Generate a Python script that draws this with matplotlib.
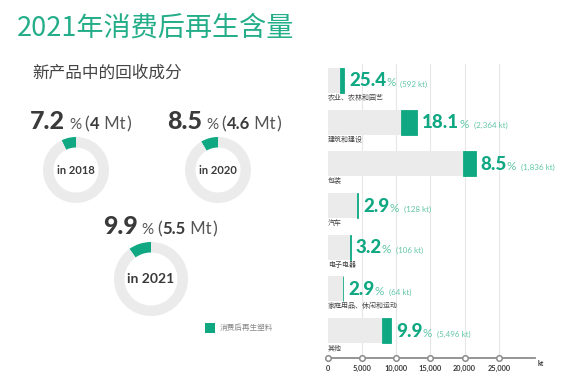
import matplotlib
matplotlib.use("Agg")
import matplotlib.pyplot as plt

# ---------------- data ----------------
title = "2021年消费后再生含量"
subtitle = "新产品中的回收成分"

donut_years = ["in 2018", "in 2020", "in 2021"]
donut_pct = [7.2, 8.5, 9.9]
donut_pct_labels = ["7.2", "8.5", "9.9"]
donut_mt_labels = ["4", "4.6", "5.5"]
legend_label = "消费后再生塑料"

categories = ["农业、农林和园艺", "建筑和建设", "包装", "汽车", "电子电器",
              "家庭用品、休闲和运动", "其他"]
sector_pct_labels = ["25.4", "18.1", "8.5", "2.9", "3.2", "2.9", "9.9"]
sector_kt_labels = ["592", "2,364", "1,836", "128", "106", "64", "5,496"]
recycled_kt = [592, 2364, 1836, 128, 106, 64, 1300]
total_kt = [2330, 13060, 21600, 4410, 3310, 2210, 9200]
x_ticks = [0, 5000, 10000, 15000, 20000, 25000]
x_tick_labels = ["0", "5,000", "10,000", "15,000", "20,000", "25,000"]

# ---------------- style ----------------
GREEN = "#0fa882"
TITLE_GREEN = "#23ad88"
LIGHT_GREEN = "#62c6a8"
GRAY_BAR = "#ebebeb"
DARK = "#3a3a3a"
CJK = ["Noto Sans CJK SC", "DejaVu Sans"]
LAT = ["Lato", "DejaVu Sans"]

W, H = 568, 387
fig = plt.figure(figsize=(W / 100, H / 100), dpi=100)
fig.patch.set_facecolor("white")
ov = fig.add_axes([0, 0, 1, 1])
ov.set_xlim(0, W)
ov.set_ylim(H, 0)
ov.axis("off")
ov.set_zorder(5)
ov.patch.set_alpha(0)

renderer = fig.canvas.get_renderer()


def seq_text(x, y, parts):
    """parts: list of (text, kwargs, gap_px_before)."""
    cx = x
    for s, kw, gap in parts:
        cx += gap
        t = ov.text(cx, y, s, ha="left", va="baseline", **kw)
        bb = t.get_window_extent(renderer)
        cx = bb.x1
    return cx


# title + subtitle
ov.text(17, 28, title, fontsize=19.5, color=TITLE_GREEN, family=CJK,
        ha="left", va="center")
ov.text(32, 73, subtitle, fontsize=12, color="#444444", family=CJK,
        ha="left", va="center")

# ---------------- donuts ----------------
donut_geo = [  # (cx, cy, r_outer, ring)
    (76, 170, 33, 10.5),
    (218, 170, 33, 10.5),
    (151, 279, 37, 10.5),
]
title_pos = [(30, 129), (167, 129), (103, 234)]
year_fs = [8, 8, 10]

for i in range(3):
    cx, cy, r, ring = donut_geo[i]
    axd = fig.add_axes([(cx - r) / W, 1 - (cy + r) / H, 2 * r / W, 2 * r / H])
    axd.pie([donut_pct[i], 100 - donut_pct[i]], colors=[GREEN, GRAY_BAR],
            startangle=90, counterclock=True, radius=1,
            wedgeprops=dict(width=ring / r, edgecolor="none"))
    axd.set_xlim(-1, 1)
    axd.set_ylim(-1, 1)
    axd.set_aspect("equal")
    axd.axis("off")
    ov.text(cx, cy, donut_years[i], fontsize=year_fs[i], fontweight="bold",
            color=DARK, family=LAT, ha="center", va="center")
    tx, ty = title_pos[i]
    seq_text(tx, ty, [
        (donut_pct_labels[i], dict(fontsize=18, fontweight="black", color=DARK, family=LAT), 0),
        ("%", dict(fontsize=11, color="#555555", family=LAT), 4),
        ("(", dict(fontsize=13, color="#555555", family=LAT), 3),
        (donut_mt_labels[i], dict(fontsize=12, fontweight="bold", color=DARK, family=LAT), 1),
        (" Mt", dict(fontsize=12, color="#555555", family=LAT), 0),
        (")", dict(fontsize=13, color="#555555", family=LAT), 1),
    ])

# legend
ov.add_patch(plt.Rectangle((205, 323), 10, 10, color=GREEN, lw=0))
ov.text(220, 328, legend_label, fontsize=5.5, color="#888888", family=CJK,
        ha="left", va="center")

# ---------------- bar chart ----------------
x0_px, x1_px = 328, 535
top_px, bot_px = 60, 357.7
row0, row_step = 80.5, 41.67
xmax = 30300
axb = fig.add_axes([x0_px / W, 1 - bot_px / H, (x1_px - x0_px) / W, (bot_px - top_px) / H])
ymin = (top_px - row0) / row_step
ymax = (bot_px - row0) / row_step
axb.set_xlim(0, xmax)
axb.set_ylim(ymax, ymin)

ys = list(range(len(categories)))
base = [t - r for t, r in zip(total_kt, recycled_kt)]
axb.barh(ys, base, height=0.6, color=GRAY_BAR, lw=0, zorder=2)
axb.barh(ys, recycled_kt, left=base, height=0.6, color=GREEN,
         edgecolor=GREEN, lw=0.6, zorder=3)

for xt in x_ticks[1:]:
    axb.axvline(xt, color="#e6e6e6", lw=0.8, zorder=1, ymin=0, ymax=0.985)

for sp in ["top", "right", "left"]:
    axb.spines[sp].set_visible(False)
axb.spines["bottom"].set_color("#8c8c8c")
axb.spines["bottom"].set_linewidth(1.3)
axb.set_yticks([])
axb.set_xticks(x_ticks)
axb.set_xticklabels(x_tick_labels, fontsize=5.3, fontweight="bold", color=DARK, family=LAT)
axb.tick_params(axis="x", length=0, pad=5)
axb.scatter(x_ticks, [ymax] * len(x_ticks), s=16, facecolor="white",
            edgecolor="#8c8c8c", lw=1.1, zorder=6, clip_on=False)
axb.patch.set_alpha(0)

ov.text(538, 363, "kt", fontsize=5, fontweight="bold", color=DARK, family=LAT,
        ha="left", va="center")

px_per_kt = (x1_px - x0_px) / xmax
for i, cat in enumerate(categories):
    yc = row0 + i * row_step
    end_px = x0_px + total_kt[i] * px_per_kt
    seq_text(end_px + 5, yc + 6, [
        (sector_pct_labels[i], dict(fontsize=13.5, fontweight="black", color=GREEN, family=LAT), 0),
        ("%", dict(fontsize=8.5, color=LIGHT_GREEN, family=LAT), 0),
        ("(" + sector_kt_labels[i] + " kt)", dict(fontsize=5.8, color=LIGHT_GREEN, family=LAT), 5),
    ])
    ov.text(x0_px, yc + 17.5, cat, fontsize=5, color="#444444", family=CJK,
            ha="left", va="center")

fig.savefig("out.png", dpi=100, facecolor="white")
